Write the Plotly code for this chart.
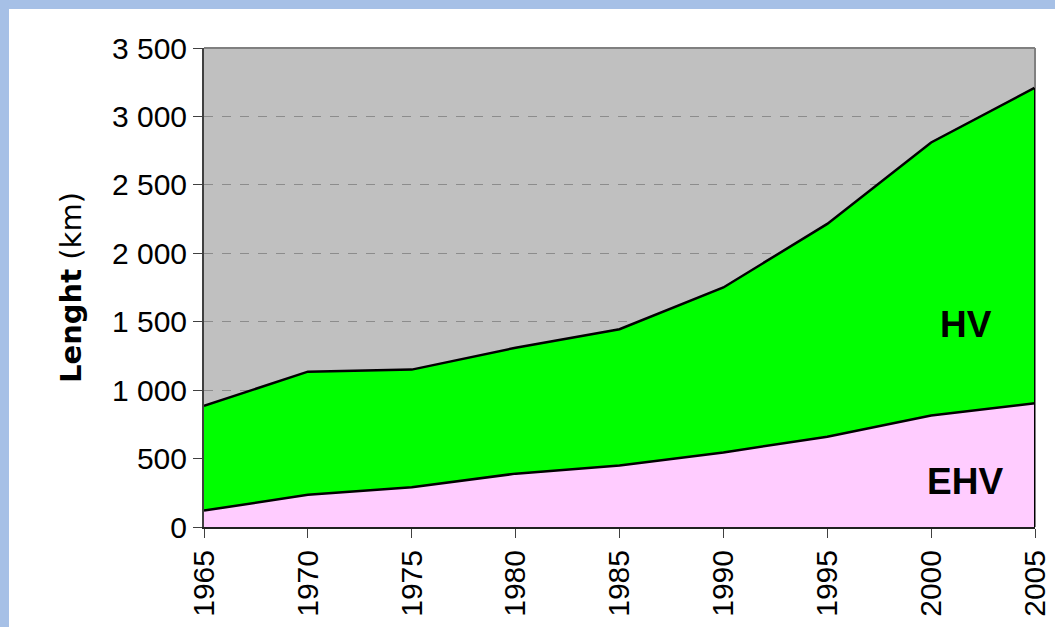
import plotly.graph_objects as go

years = [1965, 1970, 1975, 1980, 1985, 1990, 1995, 2000, 2005]
ehv = [120, 235, 290, 390, 450, 545, 660, 815, 905]
total = [885, 1135, 1150, 1310, 1445, 1750, 2215, 2810, 3210]
hv = [t - e for t, e in zip(total, ehv)]
ytick_vals = [0, 500, 1000, 1500, 2000, 2500, 3000, 3500]

W, H = 1055, 627
L, R, T, B = 204, 20, 48, 100
pw, ph = W - L - R, H - T - B

def px_x(px):
    return (px - L) / pw

def px_y(py):
    return (H - B - py) / ph

TICKFONT = dict(family="Liberation Sans Narrow, Liberation Sans, Arial", size=30, color="black")
LABELFONT = dict(family="Liberation Sans, Arial", size=37, color="black")

fig = go.Figure()
fig.add_trace(go.Scatter(
    x=years, y=ehv, stackgroup="one", mode="lines",
    line=dict(color="black", width=2.5), fillcolor="#FFCCFF", name="EHV",
))
fig.add_trace(go.Scatter(
    x=years, y=hv, stackgroup="one", mode="lines",
    line=dict(color="black", width=2.5), fillcolor="#00FF00", name="HV",
))

shapes = [
    # blue frame strips
    dict(type="rect", xref="paper", yref="paper", x0=px_x(-5), x1=px_x(9), y0=px_y(H + 5), y1=px_y(-5),
         fillcolor="#A6C0E6", line=dict(width=0), layer="below"),
    dict(type="rect", xref="paper", yref="paper", x0=px_x(-5), x1=px_x(W + 5), y0=px_y(9), y1=px_y(-5),
         fillcolor="#A6C0E6", line=dict(width=0), layer="below"),
    # gray border of plot area (top and right)
    dict(type="line", xref="paper", yref="paper", x0=0, x1=1, y0=1, y1=1,
         line=dict(color="#808080", width=2)),
    dict(type="line", xref="paper", yref="paper", x0=1, x1=1, y0=0, y1=1,
         line=dict(color="#808080", width=2)),
    # right edge of the stacked area
    dict(type="line", xref="x", yref="y", x0=years[-1], x1=years[-1], y0=0, y1=total[-1],
         line=dict(color="black", width=2)),
]

fig.update_layout(
    width=W, height=H, autosize=False,
    margin=dict(l=L, r=R, t=T, b=B, pad=0, autoexpand=False),
    paper_bgcolor="white", plot_bgcolor="#C0C0C0",
    showlegend=False, separators=". ",
    shapes=shapes,
    font=dict(family="Liberation Sans", color="black"),
)
fig.update_xaxes(
    range=[years[0], years[-1]], tickmode="array", tickvals=years,
    ticktext=[str(y) for y in years], tickangle=-90, automargin=False,
    ticks="outside", ticklen=9, tickcolor="#404040", tickwidth=1,
    tickfont=TICKFONT,
    showline=True, linecolor="#202020", linewidth=2, mirror=False,
    showgrid=False, zeroline=False,
)
fig.update_yaxes(
    range=[0, 3500], tickmode="array", tickvals=ytick_vals, tickformat=",d",
    automargin=False,
    ticks="outside", ticklen=9, tickcolor="#404040", tickwidth=1,
    tickfont=TICKFONT,
    showline=True, linecolor="#404040", linewidth=2, mirror=False,
    showgrid=True, gridcolor="#8C8C8C", griddash="dash", gridwidth=1,
    zeroline=False,
    title=dict(text="<b>Lenght</b> (km)", font=dict(family="DejaVu Sans", size=29), standoff=22),
)

fig.add_annotation(x=px_x(966), y=px_y(324), xref="paper", yref="paper", text="<b>HV</b>",
                   xanchor="center", yanchor="middle", showarrow=False, font=LABELFONT)
fig.add_annotation(x=px_x(965), y=px_y(481), xref="paper", yref="paper", text="<b>EHV</b>",
                   xanchor="center", yanchor="middle", showarrow=False, font=LABELFONT)

fig.write_html(
    "out.html",
    config={"displayModeBar": False, "responsive": False},
    post_script="document.body.style.margin='0';document.body.style.overflow='hidden';",
)
